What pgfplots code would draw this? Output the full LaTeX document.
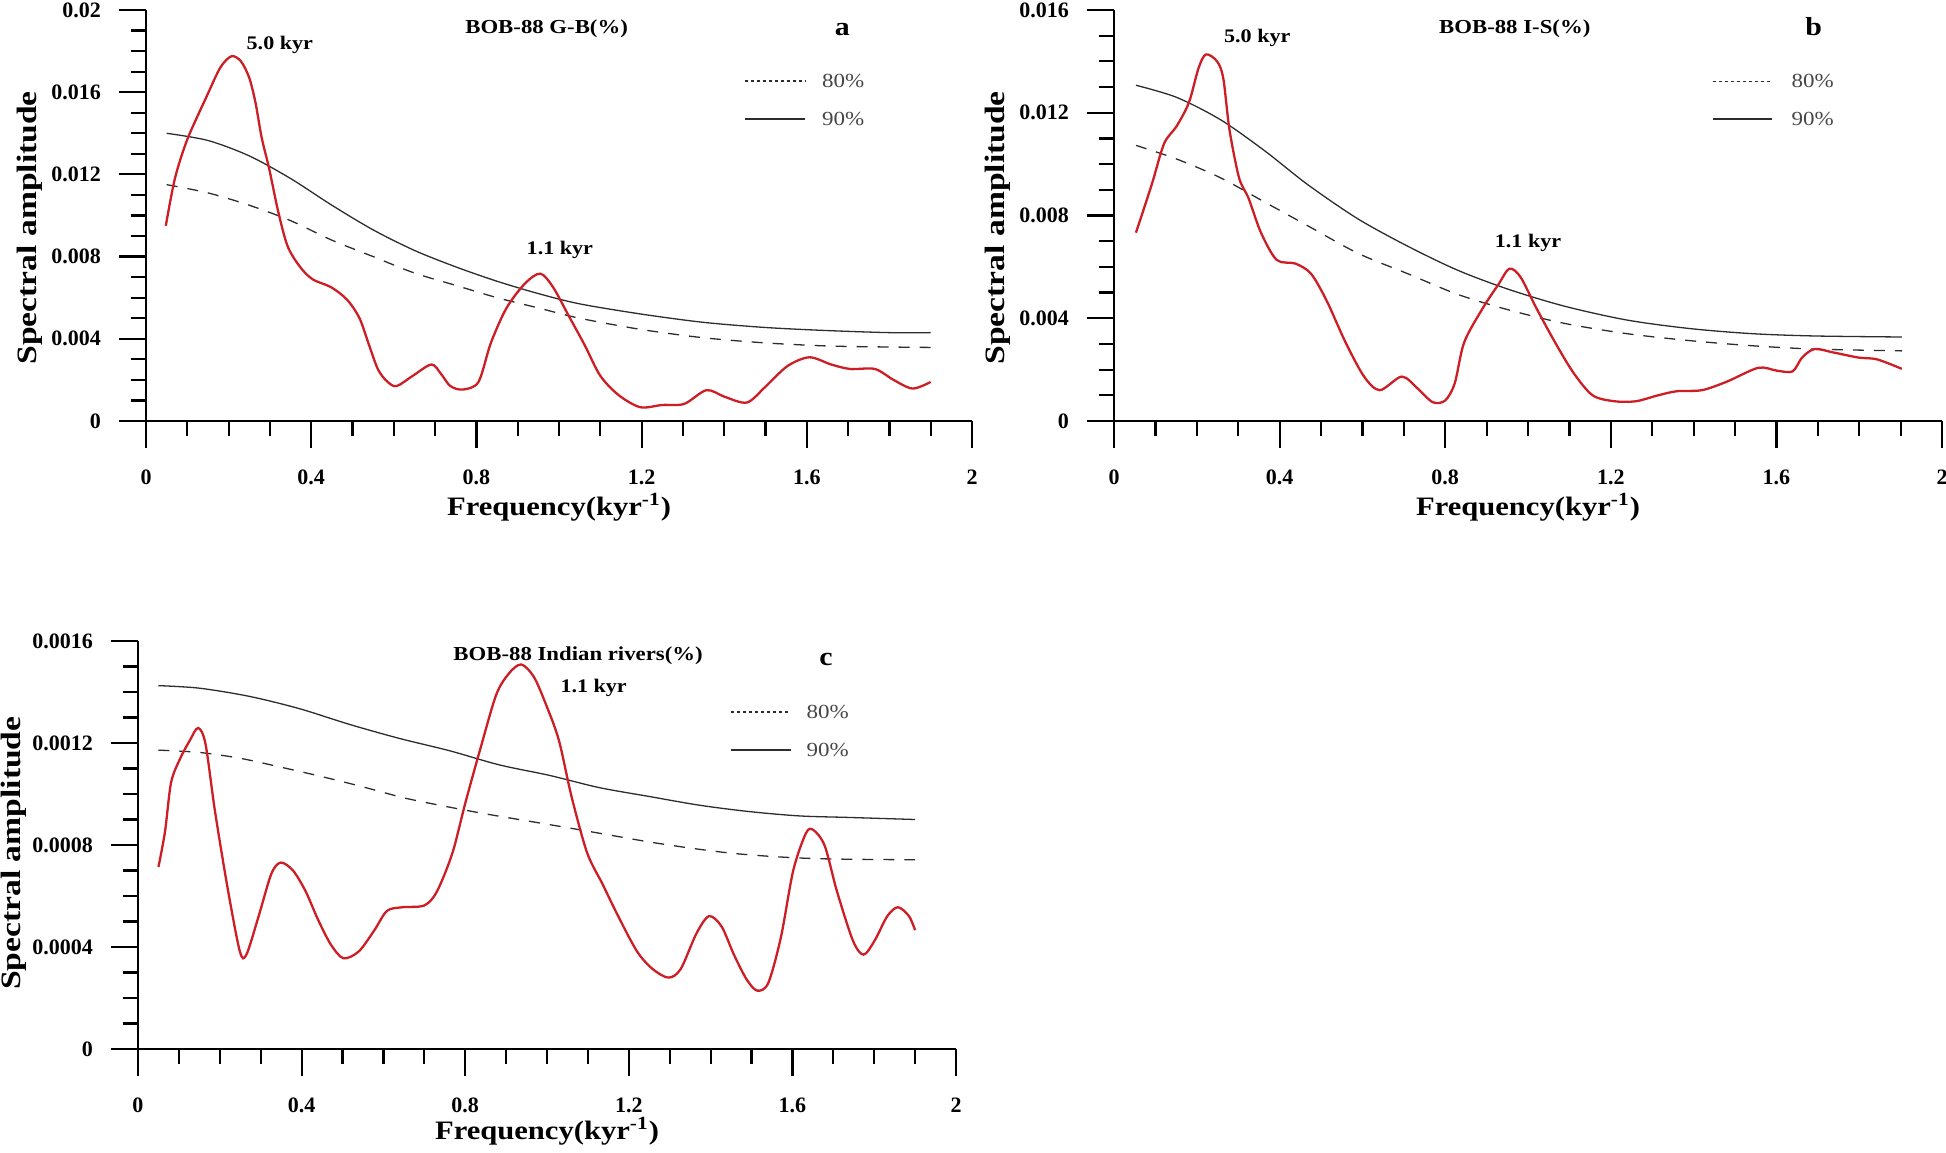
\documentclass[border=0pt]{standalone}
\usepackage{pgfplots}
\pgfplotsset{compat=1.18}
\usepackage{fontspec}
\setmainfont{Liberation Serif}
\newfontfamily\tnr[FakeStretch=1.15]{Liberation Serif}
\newfontfamily\tnrwide[FakeStretch=1.2]{Liberation Serif}
\definecolor{curvered}{RGB}{205,30,38}
\definecolor{lgrey}{RGB}{45,45,45}
\definecolor{legtext}{RGB}{70,70,70}

\newcommand{\tickfont}{\rmfamily\bfseries\fontsize{11}{13}\selectfont}
\newcommand{\labfont}{\tnr\bfseries\fontsize{13.3}{15}\selectfont}
\newcommand{\ylabfont}{\tnrwide\bfseries\fontsize{14}{16}\selectfont}
\newcommand{\titfont}{\tnr\bfseries\fontsize{9.9}{12}\selectfont}
\newcommand{\pkfont}{\tnr\bfseries\fontsize{9.6}{12}\selectfont}
\newcommand{\letfont}{\tnr\bfseries\fontsize{13}{15}\selectfont}
\newcommand{\legfont}{\tnr\fontsize{10}{12}\selectfont}

\pgfplotsset{
  spec/.style={
    scale only axis, anchor=south west,
    xmin=0, xmax=2,
    axis lines=left,
    axis line style={-, line width=1.1pt, black},
    tick align=outside,
    major tick length=13.5pt, minor tick length=7.5pt,
    every tick/.style={line width=1.1pt, black},
    minor tick num=3,
    xtick={0,0.4,0.8,1.2,1.6,2},
    xticklabels={0,0.4,0.8,1.2,1.6,2},
    scaled y ticks=false,
    ticklabel style={font=\tickfont},
    xticklabel style={anchor=base, yshift=-18pt},
    yticklabel style={anchor=east, xshift=-5.5pt},
    xlabel={Frequency(kyr\textsuperscript{-1})},
    ylabel={Spectral amplitude},
    xlabel style={font=\labfont, at={(axis description cs:0.5,-0.231)}, anchor=base},
    ylabel style={font=\ylabfont, at={(axis description cs:-0.1404,0.47)}, anchor=center},
    clip=false,
  },
  redc/.style={color=curvered, line width=1.15pt, smooth},
  solidc/.style={color=lgrey, line width=0.65pt, smooth},
  dashc/.style={color=lgrey, line width=0.65pt, smooth, dash pattern=on 5.5pt off 5pt},
}

\begin{document}
\begin{tikzpicture}
\path[use as bounding box] (0,0) rectangle (973pt,576pt);

% ---------------- Panel a ----------------
\begin{axis}[spec, at={(73pt,365.5pt)}, width=413pt, height=205.5pt,
  ymin=0, ymax=0.02,
  ytick={0,0.004,0.008,0.012,0.016,0.02},
  yticklabels={0,0.004,0.008,0.012,0.016,0.02}]
\addplot[solidc] coordinates {(0.05,0.0140) (0.15,0.01365) (0.25,0.0129) (0.35,0.0118) (0.45,0.0105) (0.55,0.0093) (0.65,0.0083) (0.75,0.0075) (0.85,0.0068) (0.95,0.0062) (1.05,0.0057) (1.2,0.0052) (1.35,0.0048) (1.5,0.00455) (1.65,0.0044) (1.8,0.0043) (1.9,0.0043)};
\addplot[dashc] coordinates {(0.05,0.0115) (0.15,0.0111) (0.25,0.0105) (0.35,0.00975) (0.45,0.0088) (0.55,0.0080) (0.65,0.0072) (0.75,0.0066) (0.85,0.0060) (0.95,0.0055) (1.05,0.0050) (1.2,0.00445) (1.35,0.00405) (1.5,0.0038) (1.65,0.00365) (1.8,0.0036) (1.9,0.00358)};
\addplot[redc] coordinates {(0.048,0.0095) (0.07,0.0118) (0.10,0.0137) (0.147,0.0158) (0.18,0.0172) (0.207,0.01775) (0.23,0.0175) (0.25,0.0167) (0.265,0.0155) (0.28,0.0138) (0.298,0.0123) (0.32,0.0102) (0.343,0.0085) (0.373,0.0075) (0.403,0.0069) (0.449,0.0065) (0.487,0.0059) (0.517,0.0050) (0.54,0.0037) (0.562,0.0025) (0.585,0.0019) (0.607,0.0017) (0.646,0.0022) (0.691,0.00275) (0.714,0.0023) (0.737,0.0017) (0.767,0.00153) (0.805,0.0019) (0.835,0.0038) (0.873,0.0055) (0.918,0.0067) (0.955,0.00717) (0.986,0.0065) (1.024,0.0051) (1.062,0.0037) (1.10,0.0022) (1.145,0.00125) (1.197,0.00067) (1.25,0.00078) (1.303,0.00083) (1.357,0.0015) (1.402,0.00117) (1.455,0.0009) (1.50,0.00167) (1.553,0.00267) (1.606,0.0031) (1.659,0.00275) (1.705,0.00253) (1.765,0.00253) (1.81,0.0020) (1.856,0.00158) (1.90,0.0019)};
\node[font=\titfont, anchor=base] at (rel axis cs:0.485,0.944) {BOB-88 G-B(\%)};
\node[font=\letfont, anchor=base] at (rel axis cs:0.843,0.939) {a};
\node[font=\pkfont, anchor=base] at (rel axis cs:0.162,0.905) {5.0 kyr};
\node[font=\pkfont, anchor=base] at (rel axis cs:0.501,0.404) {1.1 kyr};
\draw[lgrey, line width=0.6pt, dash pattern=on 1.5pt off 1.5pt] (rel axis cs:0.725,0.827) -- (rel axis cs:0.798,0.827);
\draw[lgrey, line width=0.7pt] (rel axis cs:0.725,0.735) -- (rel axis cs:0.798,0.735);
\node[font=\legfont, text=legtext, anchor=west, inner sep=0pt] at (rel axis cs:0.818,0.827) {80\%};
\node[font=\legfont, text=legtext, anchor=west, inner sep=0pt] at (rel axis cs:0.818,0.735) {90\%};
\end{axis}

% ---------------- Panel b ----------------
\begin{axis}[spec, at={(557pt,365.5pt)}, width=414pt, height=205.5pt,
  ymin=0, ymax=0.016,
  ytick={0,0.004,0.008,0.012,0.016},
  yticklabels={0,0.004,0.008,0.012,0.016}]
\addplot[solidc] coordinates {(0.053,0.01307) (0.151,0.0126) (0.257,0.01173) (0.363,0.01053) (0.468,0.0092) (0.589,0.00787) (0.71,0.0068) (0.83,0.00587) (0.952,0.00513) (1.088,0.00447) (1.239,0.00393) (1.39,0.0036) (1.541,0.0034) (1.692,0.00331) (1.903,0.00327)};
\addplot[dashc] coordinates {(0.053,0.01073) (0.151,0.0102) (0.257,0.00947) (0.363,0.00853) (0.468,0.0076) (0.589,0.00653) (0.71,0.00573) (0.83,0.00493) (0.952,0.00433) (1.088,0.0038) (1.239,0.0034) (1.39,0.00313) (1.541,0.00293) (1.692,0.0028) (1.903,0.00273)};
\addplot[redc] coordinates {(0.053,0.00733) (0.091,0.0092) (0.121,0.0108) (0.151,0.01147) (0.181,0.0124) (0.204,0.01373) (0.222,0.01427) (0.249,0.0140) (0.264,0.01333) (0.279,0.01133) (0.302,0.00947) (0.325,0.00867) (0.355,0.00733) (0.393,0.00627) (0.438,0.00613) (0.476,0.00573) (0.514,0.00467) (0.559,0.00307) (0.604,0.00173) (0.642,0.0012) (0.695,0.00173) (0.733,0.00127) (0.77,0.00073) (0.80,0.0008) (0.823,0.00147) (0.846,0.00307) (0.891,0.0044) (0.929,0.00533) (0.955,0.00593) (0.982,0.0056) (1.02,0.0044) (1.065,0.00307) (1.11,0.00187) (1.156,0.0010) (1.208,0.00077) (1.261,0.00077) (1.314,0.0010) (1.36,0.00116) (1.42,0.0012) (1.48,0.00153) (1.556,0.00207) (1.601,0.00196) (1.639,0.00193) (1.662,0.00247) (1.692,0.0028) (1.737,0.00267) (1.798,0.00247) (1.843,0.0024) (1.903,0.00203)};
\node[font=\titfont, anchor=base] at (rel axis cs:0.484,0.944) {BOB-88 I-S(\%)};
\node[font=\letfont, anchor=base] at (rel axis cs:0.845,0.939) {b};
\node[font=\pkfont, anchor=base] at (rel axis cs:0.173,0.92) {5.0 kyr};
\node[font=\pkfont, anchor=base] at (rel axis cs:0.50,0.423) {1.1 kyr};
\draw[lgrey, line width=0.6pt, dash pattern=on 1.5pt off 1.5pt] (rel axis cs:0.723,0.827) -- (rel axis cs:0.795,0.827);
\draw[lgrey, line width=0.7pt] (rel axis cs:0.723,0.735) -- (rel axis cs:0.795,0.735);
\node[font=\legfont, text=legtext, anchor=west, inner sep=0pt] at (rel axis cs:0.818,0.827) {80\%};
\node[font=\legfont, text=legtext, anchor=west, inner sep=0pt] at (rel axis cs:0.818,0.735) {90\%};
\end{axis}

% ---------------- Panel c ----------------
\begin{axis}[spec, at={(69pt,51.5pt)}, width=409pt, height=204pt,
  ymin=0, ymax=0.0016,
  ytick={0,0.0004,0.0008,0.0012,0.0016},
  yticklabels={0,0.0004,0.0008,0.0012,0.0016},
  xlabel style={at={(axis description cs:0.5,-0.223)}},
  ylabel style={at={(axis description cs:-0.1516,0.48)}}]
\addplot[solidc] coordinates {(0.05,0.001425) (0.15,0.001415) (0.272,0.001383) (0.394,0.001335) (0.517,0.001273) (0.639,0.001218) (0.761,0.00117) (0.884,0.001114) (1.006,0.001073) (1.128,0.001025) (1.251,0.00099) (1.373,0.000956) (1.495,0.000931) (1.618,0.000914) (1.74,0.000908) (1.9,0.0009)};
\addplot[dashc] coordinates {(0.05,0.001172) (0.15,0.001163) (0.25,0.00114) (0.35,0.001105) (0.45,0.001068) (0.55,0.001028) (0.65,0.000985) (0.75,0.000952) (0.85,0.000922) (0.95,0.000895) (1.05,0.000868) (1.15,0.00084) (1.25,0.000812) (1.35,0.000788) (1.45,0.000768) (1.55,0.000755) (1.65,0.000747) (1.75,0.000744) (1.9,0.000742)};
\addplot[redc] coordinates {(0.05,0.000714) (0.066,0.000852) (0.081,0.001046) (0.104,0.001142) (0.127,0.001211) (0.147,0.001259) (0.165,0.001197) (0.188,0.000935) (0.219,0.000632) (0.249,0.000383) (0.265,0.00037) (0.295,0.000521) (0.326,0.000687) (0.349,0.000731) (0.379,0.0007) (0.41,0.000618) (0.44,0.000508) (0.471,0.000411) (0.502,0.000356) (0.54,0.000383) (0.578,0.000466) (0.609,0.000542) (0.647,0.000556) (0.70,0.000563) (0.731,0.000618) (0.769,0.00077) (0.80,0.000963) (0.838,0.001183) (0.876,0.00139) (0.907,0.001473) (0.937,0.001508) (0.968,0.001459) (0.998,0.001349) (1.029,0.001211) (1.06,0.00099) (1.098,0.00077) (1.136,0.000646) (1.174,0.000521) (1.22,0.000383) (1.258,0.000314) (1.297,0.00028) (1.327,0.000314) (1.365,0.000452) (1.396,0.000521) (1.427,0.00048) (1.457,0.00037) (1.488,0.000273) (1.514,0.000229) (1.541,0.000259) (1.572,0.000439) (1.602,0.0007) (1.633,0.000846) (1.651,0.000859) (1.679,0.000797) (1.709,0.000618) (1.748,0.000425) (1.774,0.00037) (1.801,0.000425) (1.832,0.000521) (1.858,0.000556) (1.885,0.000521) (1.90,0.000466)};
\node[font=\titfont, anchor=base] at (rel axis cs:0.538,0.953) {BOB-88 Indian rivers(\%)};
\node[font=\letfont, anchor=base] at (rel axis cs:0.841,0.941) {c};
\node[font=\pkfont, anchor=base] at (rel axis cs:0.557,0.873) {1.1 kyr};
\draw[lgrey, line width=0.6pt, dash pattern=on 1.5pt off 1.5pt] (rel axis cs:0.725,0.826) -- (rel axis cs:0.798,0.826);
\draw[lgrey, line width=0.7pt] (rel axis cs:0.725,0.733) -- (rel axis cs:0.798,0.733);
\node[font=\legfont, text=legtext, anchor=west, inner sep=0pt] at (rel axis cs:0.817,0.826) {80\%};
\node[font=\legfont, text=legtext, anchor=west, inner sep=0pt] at (rel axis cs:0.817,0.733) {90\%};
\end{axis}
\end{tikzpicture}
\end{document}
